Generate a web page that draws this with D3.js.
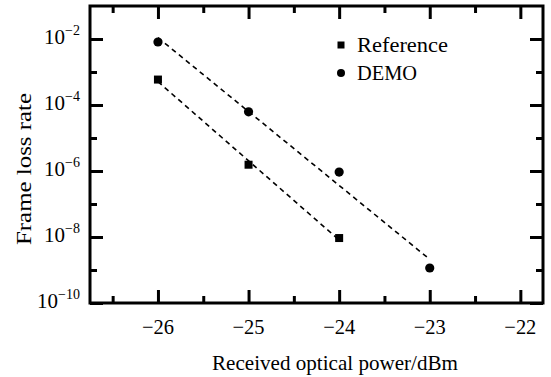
<!DOCTYPE html>
<html>
<head>
<meta charset="utf-8">
<script src="https://cdn.jsdelivr.net/npm/d3@7"></script>
<style>
  body { margin: 0; background: #fff; }
  text { font-family: "Liberation Serif", "Times New Roman", serif; fill: #000; }
</style>
</head>
<body>
<div id="chart"></div>
<script>
// data
const refPower = [-26, -25, -24];
const refLoss = [5.9e-4, 1.55e-6, 9.3e-9];
const demoPower = [-26, -25, -24, -23];
const demoLoss = [8.1e-3, 6.2e-5, 9.3e-7, 1.15e-9];
// dashed fit lines (end points)
const refFitPower = [-26, -24];
const refFitLoss = [5.1e-4, 8.1e-9];
const demoFitPower = [-26, -23];
const demoFitLoss = [1.1e-2, 2.1e-9];

const xTicks = [-26, -25, -24, -23, -22];
const xMinor = [-26.5, -25.5, -24.5, -23.5, -22.5];
const yExps = [-2, -4, -6, -8, -10];
const yMinorExps = [-3, -5, -7, -9];

const W = 551, H = 377;
const margin = { top: 6, right: 8, bottom: 74, left: 90 };
const width = W - margin.left - margin.right;
const height = H - margin.top - margin.bottom;

const svg = d3.select('#chart').append('svg')
  .attr('width', W)
  .attr('height', H);

const chart = svg.append('g')
  .attr('transform', `translate(${margin.left}, ${margin.top})`);

const x = d3.scaleLinear().domain([-26.75, -21.75]).range([0, width]);
const y = d3.scaleLog().domain([1e-10, 1e-1]).range([height, 0]);

// ticks (inward, on all four sides)
const tickStyle = g => {
  g.select('.domain').remove();
  g.selectAll('.tick line').attr('stroke', '#000').attr('stroke-width', 3);
  g.selectAll('.tick text').remove();
};
chart.append('g').attr('transform', `translate(0, ${height})`)
  .call(d3.axisBottom(x).tickValues(xTicks).tickSize(-13)).call(tickStyle);
chart.append('g').attr('transform', `translate(0, ${height})`)
  .call(d3.axisBottom(x).tickValues(xMinor).tickSize(-7)).call(tickStyle);
chart.append('g')
  .call(d3.axisTop(x).tickValues(xTicks).tickSize(-13)).call(tickStyle);
chart.append('g')
  .call(d3.axisTop(x).tickValues(xMinor).tickSize(-7)).call(tickStyle);

const yMajor = yExps.map(e => Math.pow(10, e));
const yMinor = yMinorExps.map(e => Math.pow(10, e));
chart.append('g')
  .call(d3.axisLeft(y).tickValues(yMajor).tickSize(-13)).call(tickStyle);
chart.append('g')
  .call(d3.axisLeft(y).tickValues(yMinor).tickSize(-7)).call(tickStyle);
chart.append('g').attr('transform', `translate(${width}, 0)`)
  .call(d3.axisRight(y).tickValues(yMajor).tickSize(-13)).call(tickStyle);
chart.append('g').attr('transform', `translate(${width}, 0)`)
  .call(d3.axisRight(y).tickValues(yMinor).tickSize(-7)).call(tickStyle);

// frame
chart.append('rect')
  .attr('width', width)
  .attr('height', height)
  .attr('fill', 'none')
  .attr('stroke', '#000')
  .attr('stroke-width', 3);

// x tick labels
chart.selectAll('.xlab')
  .data(xTicks)
  .enter()
  .append('text')
  .attr('x', d => x(d))
  .attr('y', height + 31)
  .attr('text-anchor', 'middle')
  .attr('textLength', 32)
  .attr('lengthAdjust', 'spacingAndGlyphs')
  .style('font-size', '21px')
  .text(d => '\u2212' + Math.abs(d));

// y tick labels with superscripts
const ylab = chart.selectAll('.ylab')
  .data(yExps)
  .enter()
  .append('text')
  .attr('x', -10)
  .attr('y', d => y(Math.pow(10, d)) + 5)
  .attr('text-anchor', 'end')
  .style('font-size', '21px');
ylab.append('tspan').text('10');
ylab.append('tspan')
  .attr('dy', -9)
  .style('font-size', '14px')
  .text(d => '\u2212' + Math.abs(d));

// axis titles
svg.append('text')
  .attr('x', 212)
  .attr('y', 370)
  .attr('textLength', 246)
  .attr('lengthAdjust', 'spacingAndGlyphs')
  .style('font-size', '21px')
  .text('Received optical power/dBm');

svg.append('text')
  .attr('transform', 'translate(31, 245) rotate(-90)')
  .attr('textLength', 152)
  .attr('lengthAdjust', 'spacingAndGlyphs')
  .style('font-size', '21px')
  .text('Frame loss rate');

// dashed fit lines
const line = d3.line().x(d => x(d[0])).y(d => y(d[1]));
const dashed = (px, py) => chart.append('path')
  .datum(px.map((p, i) => [p, py[i]]))
  .attr('d', line)
  .attr('fill', 'none')
  .attr('stroke', '#000')
  .attr('stroke-width', 1.6)
  .attr('stroke-dasharray', '5,4');
dashed(refFitPower, refFitLoss);
dashed(demoFitPower, demoFitLoss);

// markers
chart.selectAll('.sq')
  .data(refPower.map((p, i) => [p, refLoss[i]]))
  .enter()
  .append('rect')
  .attr('x', d => x(d[0]) - 4)
  .attr('y', d => y(d[1]) - 4)
  .attr('width', 8)
  .attr('height', 8)
  .attr('fill', '#000');

chart.selectAll('.dot')
  .data(demoPower.map((p, i) => [p, demoLoss[i]]))
  .enter()
  .append('circle')
  .attr('cx', d => x(d[0]))
  .attr('cy', d => y(d[1]))
  .attr('r', 4.6)
  .attr('fill', '#000');

// legend
const legend = svg.append('g').attr('transform', 'translate(341, 0)');
legend.append('rect').attr('x', -3.5).attr('y', 41.5).attr('width', 7).attr('height', 7).attr('fill', '#000');
legend.append('text').attr('x', 16).attr('y', 52)
  .attr('textLength', 91).attr('lengthAdjust', 'spacingAndGlyphs')
  .style('font-size', '21px').text('Reference');
legend.append('circle').attr('cx', 0).attr('cy', 73).attr('r', 4).attr('fill', '#000');
legend.append('text').attr('x', 16).attr('y', 80)
  .attr('textLength', 60).attr('lengthAdjust', 'spacingAndGlyphs')
  .style('font-size', '21px').text('DEMO');
</script>
</body>
</html>
